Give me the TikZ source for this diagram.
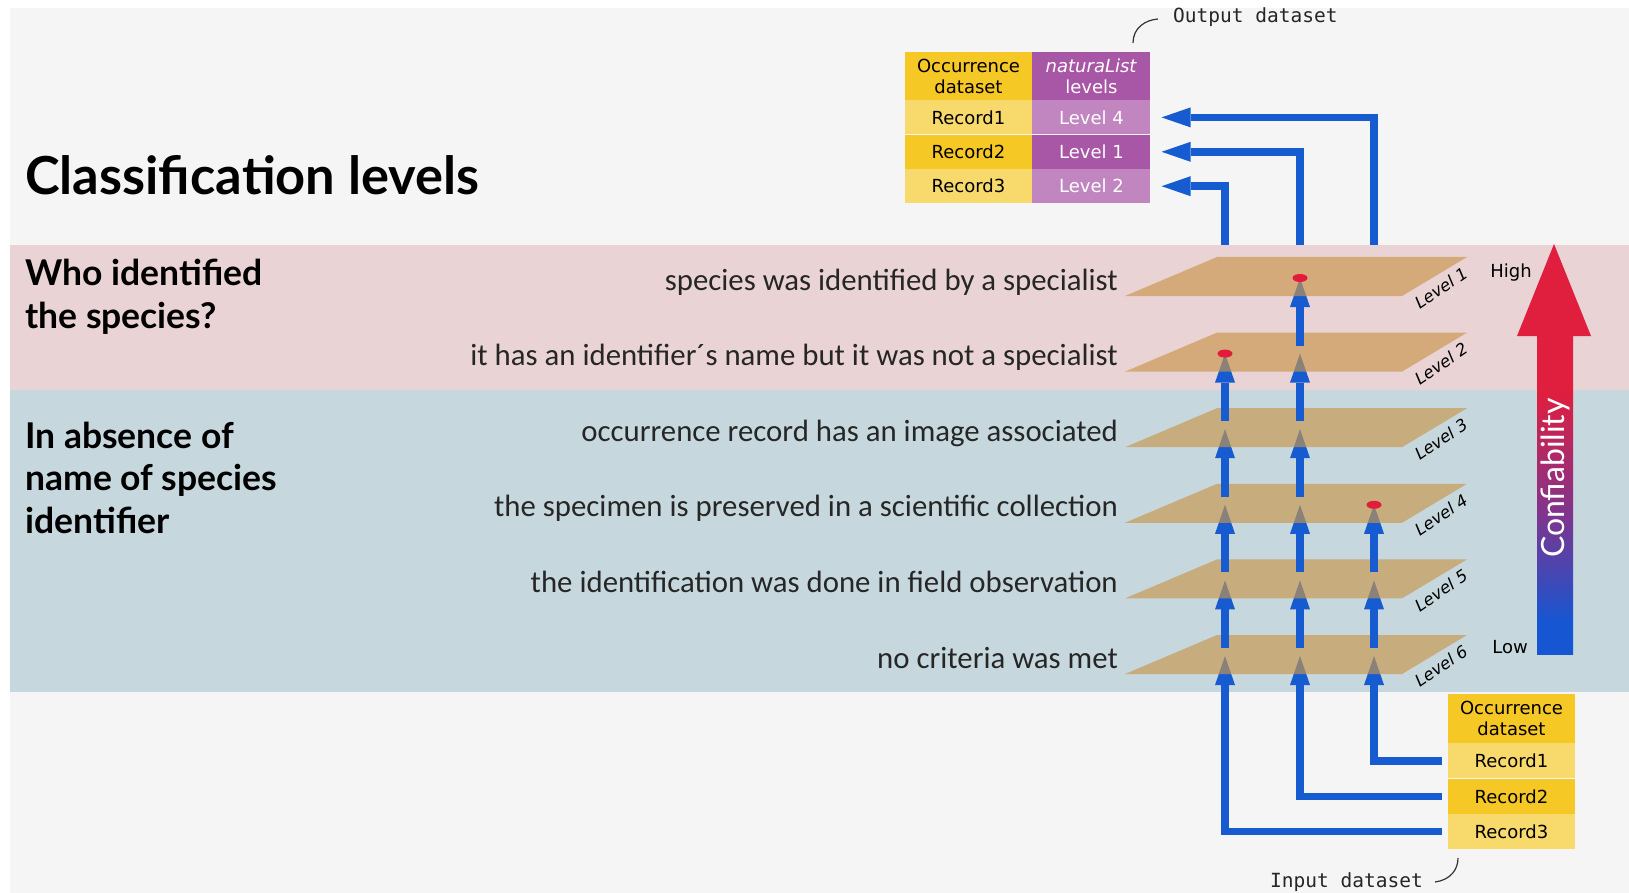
\documentclass[tikz,border=0pt]{standalone}
\usepackage{fontspec}
\setmainfont{Lato}
\newfontfamily\critfont{Carlito}
\newfontfamily\tabfont{DejaVu Sans}
\newfontfamily\tagfont{DejaVu Sans Mono}
\usetikzlibrary{calc,positioning}

\definecolor{paper}{RGB}{245,245,245}
\definecolor{bandpink}{RGB}{233,211,212}
\definecolor{bandblue}{RGB}{198,216,221}
\definecolor{planetan}{RGB}{201,149,75}
\definecolor{flowblue}{RGB}{22,92,208}
\definecolor{dotred}{RGB}{226,28,58}
\definecolor{hiyellow}{RGB}{246,200,38}
\definecolor{loyellow}{RGB}{248,218,108}
\definecolor{hipurple}{RGB}{168,86,166}
\definecolor{lopurple}{RGB}{193,133,192}
\definecolor{confred}{RGB}{224,30,62}
\definecolor{confpurple}{RGB}{128,52,142}
\definecolor{confblue}{RGB}{22,86,210}

\pgfdeclareverticalshading{confshade}{100bp}{color(0bp)=(confblue); color(30bp)=(confblue); color(47bp)=(confpurple); color(66bp)=(confred); color(100bp)=(confred)}

\def\drawflow{\draw[color=flowblue, line width=7.5pt]}
\def\fillhead{\fill[flowblue]}
\def\drawtag{\draw[color=black!80, line width=1.2pt]}

\tikzset{
  cell/.style={inner sep=0pt, minimum width=127pt, minimum height=35pt, align=center,
    font=\tabfont\fontsize{18}{21}\selectfont},
  heading/.style={anchor=base west, align=left, font=\bfseries\fontsize{35.5}{42.5}\selectfont},
  crit/.style={anchor=base east, text=black!85, font=\critfont\fontsize{30.8}{32}\selectfont},
  levlabel/.style={rotate=34, font=\tabfont\itshape\fontsize{16.5}{18}\selectfont},
  tag/.style={font=\tagfont\fontsize{19.5}{22}\selectfont, text=black!85}
}

\begin{document}
\begin{tikzpicture}[x=1pt, y=-1pt, inner sep=0pt]
\useasboundingbox (0,0) rectangle (1629,893);
% bands
\fill[paper] (10,8) rectangle (1629,893);
\fill[bandpink] (10,245) rectangle (1629,390);
\fill[bandblue] (10,390) rectangle (1629,692);

% headings (base = last line)
\node[heading, font=\bfseries\fontsize{52.4}{60}\selectfont] (title) at (25,195) {Classification levels};
\node[heading] (qwho) at (25,328) {Who identified\\the species?};
\node[heading] (qabsent) at (25,533) {In absence of\\name of species\\identifier};

% input table
\node[cell, fill=hiyellow, minimum height=49pt] (inhead) at (1511.5,718.5) {Occurrence\\dataset};
\node[cell, fill=loyellow, below=0pt of inhead] (in1) {Record1};
\node[cell, fill=hiyellow, below=0pt of in1] (in2) {Record2};
\node[cell, fill=loyellow, below=0pt of in2] (in3) {Record3};

% output table
\node[cell, fill=hiyellow, minimum height=48pt] (outhead) at (968.5,76) {Occurrence\\dataset};
\node[cell, fill=hipurple, text=white, minimum width=118pt, minimum height=48pt, right=0pt of outhead] (outlvhead) {\textit{naturaList}\\levels};
\node[cell, fill=loyellow, minimum height=34pt, below=0pt of outhead] (outrec1) {Record1};
\node[cell, fill=hiyellow, minimum height=34pt, below=0pt of outrec1] (outrec2) {Record2};
\node[cell, fill=loyellow, minimum height=34pt, below=0pt of outrec2] (outrec3) {Record3};
\node[cell, fill=lopurple, text=white, minimum width=118pt, minimum height=34pt, right=0pt of outrec1] (outlv4) {Level 4};
\node[cell, fill=hipurple, text=white, minimum width=118pt, minimum height=34pt, right=0pt of outrec2] (outlv1) {Level 1};
\node[cell, fill=lopurple, text=white, minimum width=118pt, minimum height=34pt, right=0pt of outrec3] (outlv2) {Level 2};

% levels, bottom up
\foreach \k/\T/\txt in {6/635/no criteria was met,
    5/559.4/the identification was done in field observation,
    4/483.8/the specimen is preserved in a scientific collection,
    3/408.2/occurrence record has an image associated,
    2/332.6/it has an identifier´s name but it was not a specialist,
    1/257/species was identified by a specialist} {
  \pgfmathtruncatemacro\kk{\k+1}
  \foreach \c/\x/\top/\r in {1/1225/2/3, 2/1300/1/2, 3/1374/4/1} {
    \ifnum\k<\top\relax\else
      \coordinate (tip\c-\k) at (\x,\T+21);
      \ifnum\k=6
        \drawflow ([xshift=-6pt]in\r.west) -| ($(tip\c-\k)+(0,29)$);
      \else
        \drawflow (rise\c-\kk) -- ($(tip\c-\k)+(0,29)$);
      \fi
      \fillhead ($(tip\c-\k)+(-10,29)$) -- ($(tip\c-\k)+(10,29)$) -- (tip\c-\k) -- cycle;
    \fi
    \coordinate (rise\c-\k) at (\x,\T+13);
  }
  \fill[planetan, fill opacity=0.65] (1125,\T+39) -- (1402,\T+39) -- (1467,\T) -- (1217,\T) -- cycle;
  \node[levlabel] (lev\k) at (1441,\T+31) {Level \k};
  \node[crit] (crit\k) at (1118,\T+33) {\txt};
}
\fill[dotred] (tip2-1) ellipse [x radius=7.5, y radius=4];
\fill[dotred] (tip1-2) ellipse [x radius=7.5, y radius=4];
\fill[dotred] (tip3-4) ellipse [x radius=7.5, y radius=4];

% to the output table
\coordinate (out1) at (1225,245);
\coordinate (out2) at (1300,245);
\coordinate (out3) at (1374,245);
\foreach \c/\row in {3/outlv4, 2/outlv1, 1/outlv2} {
  \drawflow (out\c) |- ([xshift=40pt]\row.east);
  \fillhead ([xshift=40pt,yshift=10pt]\row.east) -- ([xshift=40pt,yshift=-10pt]\row.east) -- ([xshift=11pt]\row.east) -- cycle;
}

% confiability
\fill[confred] (1517,336) -- (1554,244) -- (1591,336) -- cycle;
\shade[shading=confshade] (1537,335) rectangle (1573,654);
\node[rotate=90, text=white, font=\fontsize{32}{36}\selectfont] (conf) at (1555,478) {Confiability};
\node[font=\tabfont\fontsize{18}{20}\selectfont] (high) at (1511,273) {High};
\node[font=\tabfont\fontsize{18}{20}\selectfont] (low) at (1510,647) {Low};

% dataset tags
\node[tag, anchor=west] (outtag) at (1173,17) {Output dataset};
\node[tag, anchor=east] (intag) at (1423,882) {Input dataset};
\drawtag (1133,43) .. controls (1133,28) and (1145,20) .. (1158,19);
\drawtag (1435,882) .. controls (1450,880) and (1458,870) .. (1458,858);
\end{tikzpicture}
\end{document}
